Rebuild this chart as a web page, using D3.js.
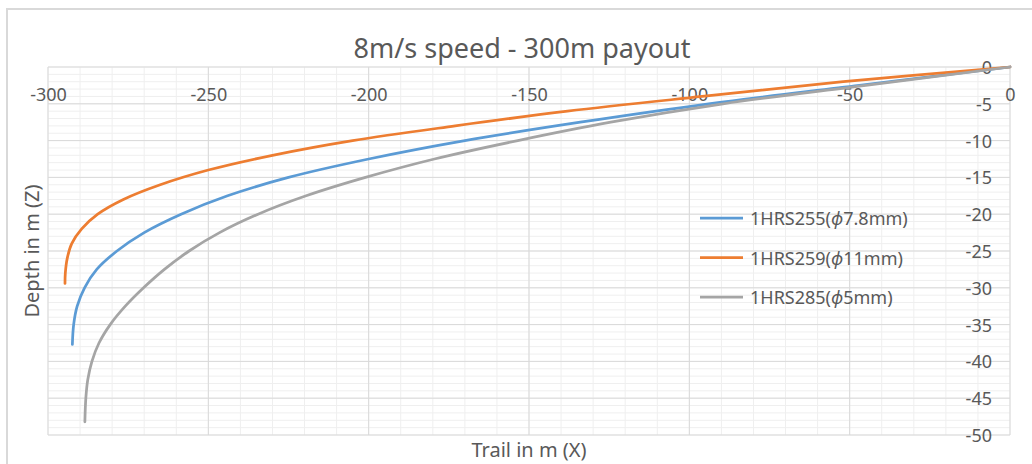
<!DOCTYPE html>
<html>
<head>
<meta charset="utf-8">
<script src="https://cdn.jsdelivr.net/npm/d3@7"></script>
<style>
  html, body { margin: 0; padding: 0; background: #fff; }
  svg { display: block; font-family: "Noto Sans", "Open Sans", sans-serif; }
</style>
</head>
<body>
<div id="chart"></div>
<script>
// trail (X, m) / depth (Z, m) pairs
const hrs255 = [
  [0, 0], [-47, -2.5], [-94, -5], [-134, -7.5], [-170, -10], [-200, -12.5],
  [-225, -15], [-244, -17.5], [-258.5, -20], [-270, -22.5], [-278.5, -25],
  [-284.8, -27.5], [-288.6, -30], [-290.9, -32.5], [-292, -35], [-292.4, -37.7]
];
const hrs259 = [
  [0, 0], [-52, -2], [-96, -4], [-138, -6], [-173, -8], [-205, -10],
  [-230, -12], [-250, -14], [-265, -16], [-276.5, -18], [-284.5, -20],
  [-289.5, -22], [-292.6, -24], [-294, -26], [-294.6, -28], [-294.7, -29.4]
];
const hrs285 = [
  [0, 0], [-45, -2.5], [-89.5, -5], [-124.5, -7.5], [-153.5, -10], [-179.5, -12.5],
  [-201, -15], [-219.5, -17.5], [-234.5, -20], [-246.5, -22.5], [-256, -25],
  [-263.7, -27.5], [-270.2, -30], [-275.9, -32.5], [-280.6, -35], [-284.1, -37.5],
  [-286.3, -40], [-287.6, -42.5], [-288.2, -45], [-288.5, -48.2]
];

// legend labels: name, diameter
const seriesNames = ["1HRS255", "1HRS259", "1HRS285"];
const seriesSizes = ["7.8mm", "11mm", "5mm"];
const seriesColors = ["#5b9bd5", "#ed7d31", "#a5a5a5"];
const seriesData = [hrs255, hrs259, hrs285];

const xTicks = [-300, -250, -200, -150, -100, -50, 0];
const yTicks = [0, -5, -10, -15, -20, -25, -30, -35, -40, -45, -50];

const titleText = "8m/s speed - 300m payout";
const xTitle = "Trail in m (X)";
const yTitle = "Depth in m (Z)";

const width = 1032;
const height = 464;
const margin = {left: 48, right: 22, top: 67, bottom: 29};

const svg = (d3.select("#chart").append("svg")
             .attr("width", width)
             .attr("height", height)
             .attr("viewBox", [0, 0, width, height]));

svg.append("rect")
  .attr("x", 7).attr("y", 9)
  .attr("width", width + 20).attr("height", height + 20)
  .attr("fill", "#fff")
  .attr("stroke", "#d9d9d9")
  .attr("stroke-width", 2);

const x = (d3.scaleLinear()
           .domain([-300, 0])
           .range([margin.left, width - margin.right]));

const y = (d3.scaleLinear()
           .domain([-50, 0])
           .range([height - margin.bottom, margin.top]));

// gridlines: minor first, then major
const grid = svg.append("g");
grid.selectAll("line.hminor")
  .data(d3.range(-50, 1, 1))
  .join("line")
  .attr("x1", x(-300)).attr("x2", x(0))
  .attr("y1", (d) => y(d)).attr("y2", (d) => y(d))
  .attr("stroke", "#efefef");
grid.selectAll("line.vminor")
  .data(d3.range(-300, 1, 10))
  .join("line")
  .attr("y1", y(-50)).attr("y2", y(0))
  .attr("x1", (d) => x(d)).attr("x2", (d) => x(d))
  .attr("stroke", "#efefef");
grid.selectAll("line.hmajor")
  .data(yTicks)
  .join("line")
  .attr("x1", x(-300)).attr("x2", x(0))
  .attr("y1", (d) => y(d)).attr("y2", (d) => y(d))
  .attr("stroke", "#d9d9d9");
grid.selectAll("line.vmajor")
  .data(xTicks)
  .join("line")
  .attr("y1", y(-50)).attr("y2", y(0))
  .attr("x1", (d) => x(d)).attr("x2", (d) => x(d))
  .attr("stroke", "#d9d9d9");

// tick labels
const xAxis = svg.append("g")
  .attr("transform", `translate(0,${y(0)})`)
  .call(d3.axisBottom(x).tickValues(xTicks).tickFormat((d) => String(d))
        .tickSize(0).tickPadding(21));
const yAxis = svg.append("g")
  .attr("transform", `translate(${x(0)},0)`)
  .call(d3.axisLeft(y).tickValues(yTicks).tickFormat((d) => String(d))
        .tickSize(0).tickPadding(18));

[xAxis, yAxis].forEach((g) => {
  g.select(".domain").remove();
  g.selectAll("text")
    .attr("font-family", "Noto Sans, Open Sans, sans-serif")
    .attr("font-size", 18)
    .attr("fill", "#595959");
});
yAxis.selectAll("text").attr("dy", "0.36em");

// series
const line = (d3.line()
              .x((d) => x(d[0]))
              .y((d) => y(d[1]))
              .curve(d3.curveCatmullRom.alpha(0.5)));

svg.append("g")
  .selectAll("path")
  .data(seriesData)
  .join("path")
  .attr("d", (d) => line(d))
  .attr("fill", "none")
  .attr("stroke", (d, i) => seriesColors[i])
  .attr("stroke-width", 2.75)
  .attr("stroke-linecap", "round");

// legend
const legend = svg.append("g")
  .selectAll("g")
  .data(seriesNames)
  .join("g")
  .attr("transform", (d, i) => `translate(700,${218 + i * 39.5})`);
legend.append("line")
  .attr("x1", 0).attr("x2", 43)
  .attr("stroke", (d, i) => seriesColors[i])
  .attr("stroke-width", 2.75);
const legendText = legend.append("text")
  .attr("x", 50).attr("y", 7)
  .attr("font-size", 18)
  .attr("fill", "#595959");
legendText.append("tspan").text((d) => d + "(");
legendText.append("tspan").attr("font-style", "italic").text("\u03D5");
legendText.append("tspan").text((d, i) => seriesSizes[i] + ")");

// titles
svg.append("text")
  .attr("x", 522).attr("y", 58)
  .attr("text-anchor", "middle")
  .attr("font-size", 27)
  .attr("fill", "#595959")
  .text(titleText);

svg.append("text")
  .attr("x", (x(-300) + x(0)) / 2).attr("y", 457)
  .attr("text-anchor", "middle")
  .attr("font-size", 20)
  .attr("fill", "#595959")
  .text(xTitle);

svg.append("text")
  .attr("transform", `translate(39,${(y(0) + y(-50)) / 2}) rotate(-90)`)
  .attr("text-anchor", "middle")
  .attr("font-size", 20)
  .attr("fill", "#595959")
  .text(yTitle);
</script>
</body>
</html>
